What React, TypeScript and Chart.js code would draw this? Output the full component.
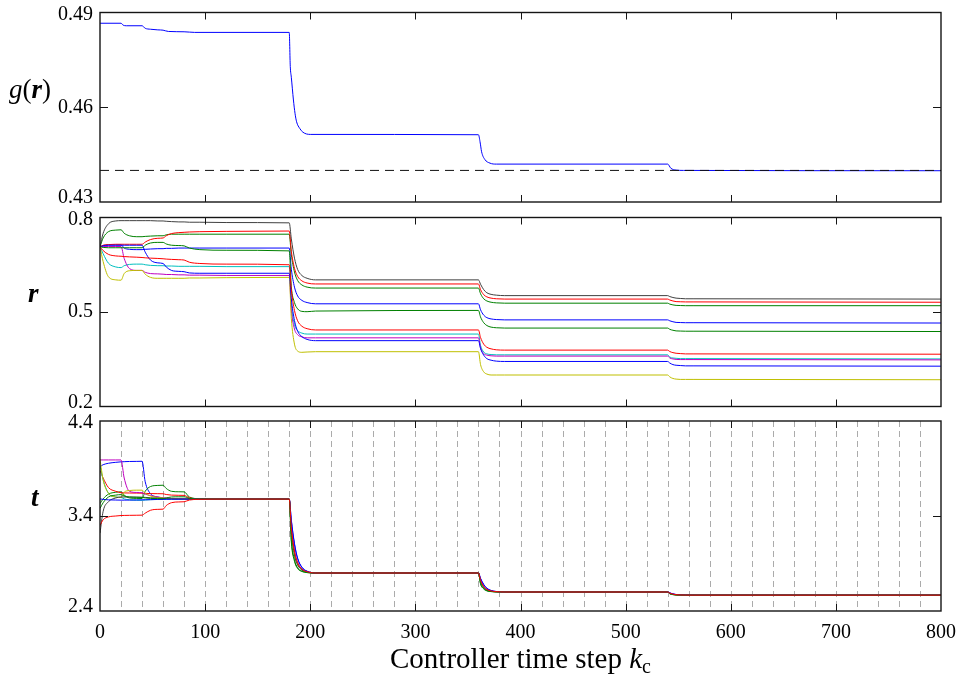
import React, { useEffect, useRef } from "react";
import { Chart, registerables } from "chart.js";

Chart.register(...registerables);

// Sampled controller time steps shared by the r and t trajectories
const STEPS = [
  0, 3, 8, 15, 20, 23, 28, 35, 40, 43, 48, 55, 60, 63, 68, 75, 80, 85, 95, 120,
  180, 182, 185, 188, 192, 197, 205,
  360, 362, 365, 368, 372, 377, 385,
  540, 542, 545, 548, 552, 557, 565,
  800,
];

// Objective g(r)
const G_STEPS = [
  0, 20, 22, 25, 40, 43, 48, 55, 60, 65, 80, 90,
  180, 181, 182, 184, 185.5, 187, 190, 193, 200,
  360, 361.5, 363, 366, 371, 377,
  540, 543, 548, 555, 800,
];
const G_VALUES = [
  0.4866, 0.4866, 0.486, 0.4858, 0.4858, 0.485, 0.4847, 0.4845, 0.4844, 0.484, 0.4839, 0.4837,
  0.4837, 0.4729, 0.4695, 0.4623, 0.4581, 0.4554, 0.4533, 0.4521, 0.4514,
  0.4513, 0.4491, 0.4459, 0.4435, 0.4423, 0.442,
  0.442, 0.4407, 0.4401, 0.44, 0.4399,
];
const G_TARGET = 0.44;

// Rates r
const R_B1 = [
  0.707, 0.711, 0.713, 0.713, 0.713, 0.703, 0.699, 0.698, 0.698, 0.699, 0.7, 0.701, 0.701, 0.702, 0.702, 0.703, 0.703, 0.703, 0.703, 0.703,
  0.703, 0.636, 0.579, 0.551, 0.537, 0.53, 0.526,
  0.526, 0.507, 0.49, 0.482, 0.478, 0.476, 0.475,
  0.475, 0.472, 0.469, 0.467, 0.4665, 0.466, 0.466,
  0.465,
];
const R_G1 = [
  0.707, 0.735, 0.755, 0.76, 0.761, 0.75, 0.742, 0.739, 0.739, 0.74, 0.741, 0.742, 0.742, 0.745, 0.747, 0.747, 0.747, 0.747, 0.747, 0.747,
  0.747, 0.682, 0.627, 0.6, 0.586, 0.579, 0.576,
  0.576, 0.558, 0.542, 0.535, 0.531, 0.529, 0.528,
  0.528, 0.525, 0.5225, 0.521, 0.5205, 0.52, 0.52,
  0.52,
];
const R_R1 = [
  0.707, 0.712, 0.714, 0.715, 0.715, 0.715, 0.715, 0.715, 0.715, 0.722, 0.73, 0.734, 0.735, 0.742, 0.749, 0.752, 0.753, 0.754, 0.755, 0.756,
  0.757, 0.693, 0.639, 0.613, 0.599, 0.592, 0.589,
  0.589, 0.571, 0.555, 0.548, 0.544, 0.542, 0.541,
  0.541, 0.538, 0.535, 0.533, 0.5325, 0.532, 0.532,
  0.531,
];
const R_C = [
  0.707, 0.685, 0.655, 0.643, 0.641, 0.647, 0.651, 0.652, 0.652, 0.65, 0.648, 0.647, 0.647, 0.646, 0.646, 0.645, 0.645, 0.645, 0.645, 0.644,
  0.644, 0.526, 0.46, 0.441, 0.433, 0.43, 0.43,
  0.43, 0.394, 0.373, 0.367, 0.365, 0.364, 0.364,
  0.364, 0.357, 0.354, 0.353, 0.352, 0.352, 0.352,
  0.351,
];
const R_M = [
  0.708, 0.708, 0.708, 0.708, 0.708, 0.67, 0.638, 0.632, 0.632, 0.626, 0.622, 0.621, 0.62, 0.619, 0.619, 0.618, 0.618, 0.617, 0.617, 0.616,
  0.616, 0.507, 0.446, 0.428, 0.421, 0.418, 0.418,
  0.418, 0.386, 0.368, 0.363, 0.361, 0.36, 0.36,
  0.36, 0.354, 0.351, 0.3495, 0.349, 0.349, 0.349,
  0.348,
];
const R_Y = [
  0.707, 0.66, 0.612, 0.602, 0.601, 0.622, 0.631, 0.632, 0.632, 0.62, 0.61, 0.607, 0.607, 0.607, 0.607, 0.607, 0.607, 0.608, 0.608, 0.609,
  0.61, 0.48, 0.398, 0.376, 0.372, 0.373, 0.374,
  0.374, 0.333, 0.31, 0.303, 0.3, 0.3, 0.3,
  0.3, 0.294, 0.289, 0.287, 0.286, 0.286, 0.286,
  0.285,
];
const R_K = [
  0.707, 0.75, 0.78, 0.789, 0.79, 0.79, 0.79, 0.79, 0.79, 0.79, 0.79, 0.789, 0.789, 0.788, 0.787, 0.786, 0.786, 0.785, 0.785, 0.784,
  0.783, 0.732, 0.671, 0.635, 0.616, 0.607, 0.602,
  0.602, 0.588, 0.571, 0.561, 0.556, 0.5535, 0.552,
  0.552, 0.549, 0.546, 0.544, 0.543, 0.542, 0.542,
  0.541,
];
const R_B2 = [
  0.707, 0.71, 0.712, 0.712, 0.712, 0.712, 0.712, 0.712, 0.712, 0.69, 0.665, 0.656, 0.654, 0.643, 0.632, 0.629, 0.628, 0.624, 0.623, 0.623,
  0.623, 0.542, 0.473, 0.439, 0.422, 0.413, 0.409,
  0.409, 0.384, 0.363, 0.352, 0.347, 0.344, 0.343,
  0.343, 0.338, 0.333, 0.331, 0.33, 0.329, 0.329,
  0.328,
];
const R_G2 = [
  0.707, 0.705, 0.704, 0.704, 0.704, 0.704, 0.704, 0.704, 0.704, 0.712, 0.719, 0.721, 0.721, 0.716, 0.712, 0.711, 0.71, 0.703, 0.698, 0.696,
  0.694, 0.58, 0.53, 0.51, 0.502, 0.501, 0.503,
  0.505, 0.484, 0.466, 0.457, 0.452, 0.45, 0.449,
  0.449, 0.445, 0.442, 0.44, 0.4395, 0.439, 0.439,
  0.438,
];
const R_R2 = [
  0.707, 0.695, 0.683, 0.678, 0.677, 0.676, 0.675, 0.674, 0.673, 0.672, 0.671, 0.67, 0.669, 0.668, 0.667, 0.666, 0.665, 0.658, 0.654, 0.652,
  0.65, 0.571, 0.505, 0.472, 0.455, 0.447, 0.443,
  0.443, 0.419, 0.398, 0.388, 0.383, 0.38, 0.379,
  0.379, 0.3745, 0.371, 0.369, 0.368, 0.367, 0.367,
  0.366,
];

// Times t
const T_B1 = [
  3.92, 3.94, 3.955, 3.965, 3.97, 3.972, 3.974, 3.975, 3.976, 3.76, 3.635, 3.6, 3.59, 3.587, 3.584, 3.581, 3.58, 3.579, 3.578, 3.578,
  3.578, 3.36, 3.111, 2.956, 2.862, 2.819, 2.8,
  2.8, 2.744, 2.68, 2.64, 2.616, 2.605, 2.6,
  2.6, 2.591, 2.58, 2.574, 2.57, 2.568, 2.567,
  2.567,
];
const T_G1 = [
  3.53, 3.58, 3.63, 3.65, 3.654, 3.62, 3.59, 3.585, 3.584, 3.66, 3.71, 3.722, 3.724, 3.69, 3.66, 3.655, 3.654, 3.6, 3.582, 3.579,
  3.578, 3.127, 2.924, 2.847, 2.816, 2.804, 2.8,
  2.8, 2.684, 2.632, 2.612, 2.604, 2.601, 2.6,
  2.6, 2.581, 2.572, 2.569, 2.568, 2.567, 2.567,
  2.567,
];
const T_R1 = [
  3.88, 3.8, 3.7, 3.66, 3.645, 3.643, 3.642, 3.641, 3.64, 3.638, 3.636, 3.635, 3.634, 3.626, 3.62, 3.618, 3.617, 3.592, 3.58, 3.578,
  3.578, 3.267, 3.018, 2.901, 2.839, 2.812, 2.8,
  2.8, 2.72, 2.656, 2.626, 2.61, 2.603, 2.6,
  2.6, 2.587, 2.576, 2.571, 2.569, 2.5675, 2.567,
  2.567,
];
const T_C = [
  3.93, 3.78, 3.64, 3.6, 3.595, 3.58, 3.57, 3.566, 3.565, 3.568, 3.572, 3.575, 3.576, 3.577, 3.577, 3.578, 3.578, 3.578, 3.578, 3.578,
  3.578, 3.26, 3.01, 2.897, 2.837, 2.811, 2.8,
  2.8, 2.716, 2.652, 2.624, 2.609, 2.603, 2.6,
  2.6, 2.586, 2.575, 2.571, 2.569, 2.5675, 2.567,
  2.567,
];
const T_M = [
  3.99, 3.99, 3.99, 3.99, 3.99, 3.8, 3.66, 3.648, 3.645, 3.63, 3.615, 3.6, 3.592, 3.588, 3.584, 3.581, 3.58, 3.579, 3.578, 3.578,
  3.578, 3.27, 3.024, 2.905, 2.841, 2.813, 2.8,
  2.8, 2.722, 2.658, 2.627, 2.611, 2.603, 2.6,
  2.6, 2.588, 2.577, 2.572, 2.569, 2.5675, 2.567,
  2.567,
];
const T_Y = [
  4.0, 3.78, 3.64, 3.6, 3.595, 3.65, 3.668, 3.672, 3.672, 3.64, 3.61, 3.595, 3.59, 3.585, 3.582, 3.58, 3.579, 3.578, 3.578, 3.578,
  3.578, 3.25, 3.0, 2.89, 2.834, 2.81, 2.8,
  2.8, 2.712, 2.65, 2.622, 2.608, 2.602, 2.6,
  2.6, 2.585, 2.575, 2.57, 2.568, 2.567, 2.567,
  2.567,
];
const T_K = [
  3.22, 3.45, 3.55, 3.59, 3.6, 3.6, 3.6, 3.599, 3.598, 3.596, 3.592, 3.588, 3.585, 3.583, 3.581, 3.58, 3.579, 3.578, 3.578, 3.578,
  3.578, 3.24, 2.99, 2.885, 2.832, 2.809, 2.8,
  2.8, 2.708, 2.646, 2.62, 2.607, 2.602, 2.6,
  2.6, 2.584, 2.574, 2.57, 2.568, 2.567, 2.567,
  2.567,
];
const T_B2 = [
  3.58, 3.575, 3.57, 3.568, 3.567, 3.567, 3.568, 3.569, 3.57, 3.571, 3.572, 3.574, 3.575, 3.576, 3.577, 3.577, 3.578, 3.578, 3.578, 3.578,
  3.578, 3.35, 3.1, 2.95, 2.86, 2.818, 2.8,
  2.8, 2.74, 2.676, 2.638, 2.615, 2.605, 2.6,
  2.6, 2.59, 2.579, 2.573, 2.57, 2.568, 2.567,
  2.567,
];
const T_G2 = [
  3.48, 3.54, 3.6, 3.62, 3.625, 3.61, 3.6, 3.597, 3.595, 3.59, 3.585, 3.583, 3.582, 3.59, 3.6, 3.602, 3.602, 3.585, 3.579, 3.578,
  3.578, 3.15, 2.94, 2.855, 2.82, 2.805, 2.8,
  2.8, 2.69, 2.636, 2.614, 2.605, 2.601, 2.6,
  2.6, 2.582, 2.573, 2.569, 2.568, 2.567, 2.567,
  2.567,
];
const T_R2 = [
  3.3, 3.36, 3.39, 3.4, 3.405, 3.406, 3.407, 3.408, 3.409, 3.43, 3.46, 3.47, 3.472, 3.51, 3.54, 3.548, 3.55, 3.568, 3.576, 3.578,
  3.578, 3.28, 3.03, 2.91, 2.843, 2.814, 2.8,
  2.8, 2.725, 2.66, 2.628, 2.611, 2.604, 2.6,
  2.6, 2.588, 2.577, 2.572, 2.569, 2.5675, 2.567,
  2.567,
];

const R_SERIES = [R_B1, R_G1, R_R1, R_C, R_M, R_Y, R_K, R_B2, R_G2, R_R2];
const T_SERIES = [T_B1, T_G1, T_R1, T_C, T_M, T_Y, T_K, T_B2, T_G2, T_R2];
const SERIES_COLORS = [
  "#0000ff", "#008000", "#ff0000", "#00bfbf", "#bf00bf",
  "#bfbf00", "#404040", "#0000ff", "#008000", "#ff0000",
];

const X_TICKS = [0, 100, 200, 300, 400, 500, 600, 700, 800];
const X_TICK_LABELS = ["0", "100", "200", "300", "400", "500", "600", "700", "800"];
const G_TICKS = [0.43, 0.46, 0.49];
const G_TICK_LABELS = ["0.43", "0.46", "0.49"];
const R_TICKS = [0.2, 0.5, 0.8];
const R_TICK_LABELS = ["0.2", "0.5", "0.8"];
const T_TICKS = [2.4, 3.4, 4.4];
const T_TICK_LABELS = ["2.4", "3.4", "4.4"];
// Sampling instants of the t panel, every 20 controller steps
const SAMPLE_STEPS = [
  20, 40, 60, 80, 100, 120, 140, 160, 180, 200, 220, 240, 260, 280, 300, 320, 340, 360, 380,
  400, 420, 440, 460, 480, 500, 520, 540, 560, 580, 600, 620, 640, 660, 680, 700, 720, 740, 760, 780,
];

const FAMILY = "'Liberation Serif', 'Times New Roman', serif";
const W = 959;

type TextPart = { text: string; style: string; size: number; dy?: number };

interface PanelSpec {
  top: number;
  height: number;
  padTop: number;
  padBottom: number;
  datasets: any[];
  yMin: number;
  yMax: number;
  yTicks: number[];
  yTickLabels: string[];
  showX: boolean;
  label: TextPart[];
  labelX: number;
  labelDy: number;
  vGrid?: number[];
  title?: TextPart[];
}

function drawParts(ctx: CanvasRenderingContext2D, parts: TextPart[], x: number, y: number, center = false) {
  let total = 0;
  for (const p of parts) {
    ctx.font = `${p.style} ${p.size}px ${FAMILY}`;
    total += ctx.measureText(p.text).width;
  }
  let cx = center ? x - total / 2 : x;
  for (const p of parts) {
    ctx.font = `${p.style} ${p.size}px ${FAMILY}`;
    ctx.fillText(p.text, cx, y + (p.dy || 0));
    cx += ctx.measureText(p.text).width;
  }
}

function framePlugin(spec: PanelSpec) {
  return {
    id: "frame",
    beforeDatasetsDraw(chart: any) {
      if (!spec.vGrid) return;
      const { ctx, chartArea: a, scales } = chart;
      ctx.save();
      ctx.strokeStyle = "#ababab";
      ctx.lineWidth = 1;
      ctx.setLineDash([6, 4]);
      for (const k of spec.vGrid) {
        const x = Math.round(scales.x.getPixelForValue(k)) + 0.5;
        ctx.beginPath();
        ctx.moveTo(x, a.top);
        ctx.lineTo(x, a.bottom);
        ctx.stroke();
      }
      ctx.restore();
    },
    afterDatasetsDraw(chart: any) {
      const { ctx, chartArea: a, scales } = chart;
      ctx.save();
      ctx.strokeStyle = "#151515";
      ctx.lineWidth = 1;
      // inward tick marks
      ctx.beginPath();
      for (const k of X_TICKS.slice(1, -1)) {
        const x = Math.round(scales.x.getPixelForValue(k)) + 0.5;
        ctx.moveTo(x, a.top);
        ctx.lineTo(x, a.top + 7);
        ctx.moveTo(x, a.bottom);
        ctx.lineTo(x, a.bottom - 7);
      }
      for (const v of spec.yTicks.slice(1, -1)) {
        const y = Math.round(scales.y.getPixelForValue(v)) + 0.5;
        ctx.moveTo(a.left, y);
        ctx.lineTo(a.left + 8, y);
        ctx.moveTo(a.right, y);
        ctx.lineTo(a.right - 8, y);
      }
      ctx.stroke();
      // axes box
      ctx.lineWidth = 1.4;
      ctx.strokeRect(a.left, a.top, a.right - a.left, a.bottom - a.top);
      ctx.fillStyle = "#000";
      // y tick labels, end labels nudged inside the axis span
      ctx.font = `20px ${FAMILY}`;
      ctx.textAlign = "right";
      ctx.textBaseline = "middle";
      const last = spec.yTicks.length - 1;
      spec.yTicks.forEach((v, i) => {
        const off = i === 0 ? -4 : i === last ? 2 : 0;
        ctx.fillText(spec.yTickLabels[i], a.left - 7, scales.y.getPixelForValue(v) + off);
      });
      // axis label
      ctx.textBaseline = "alphabetic";
      ctx.textAlign = "left";
      drawParts(ctx, spec.label, spec.labelX, a.top + spec.labelDy);
      if (spec.title) {
        drawParts(ctx, spec.title, (a.left + a.right) / 2, a.bottom + 57, true);
      }
      ctx.restore();
    },
  };
}

function Panel({ spec }: { spec: PanelSpec }) {
  const ref = useRef<HTMLCanvasElement>(null);
  useEffect(() => {
    const tickFont = { family: FAMILY, size: 20 };
    const chart = new Chart(ref.current as HTMLCanvasElement, {
      type: "line",
      data: { datasets: spec.datasets },
      options: {
        responsive: false,
        maintainAspectRatio: false,
        animation: false,
        devicePixelRatio: 1,
        events: [],
        layout: { padding: { left: 0, right: 18, top: spec.padTop, bottom: spec.padBottom } },
        plugins: { legend: { display: false }, tooltip: { enabled: false } },
        scales: {
          x: {
            type: "linear",
            min: 0,
            max: 800,
            display: spec.showX,
            afterBuildTicks: (s: any) => {
              s.ticks = X_TICKS.map((v) => ({ value: v }));
            },
            afterFit: (s: any) => {
              s.height = spec.showX ? 46 : 0;
            },
            ticks: {
              autoSkip: false,
              maxRotation: 0,
              padding: 2,
              color: "#000",
              font: tickFont,
              callback: (_v: any, i: number) => X_TICK_LABELS[i],
            },
            grid: { display: false },
            border: { display: false },
          },
          y: {
            type: "linear",
            min: spec.yMin,
            max: spec.yMax,
            afterBuildTicks: (s: any) => {
              s.ticks = spec.yTicks.map((v) => ({ value: v }));
            },
            afterFit: (s: any) => {
              s.width = 100;
            },
            ticks: { display: false },
            grid: { display: false },
            border: { display: false },
          },
        },
      } as any,
      plugins: [framePlugin(spec)],
    });
    return () => chart.destroy();
  }, []);
  return (
    <canvas
      ref={ref}
      width={W}
      height={spec.height}
      style={{ position: "absolute", left: 0, top: spec.top, width: W, height: spec.height }}
    />
  );
}

function lineSet(steps: number[], values: number[], color: string, order: number, dash?: number[]) {
  return {
    data: steps.map((k, i) => ({ x: k, y: values[i] })),
    borderColor: color,
    borderWidth: 1,
    borderDash: dash || [],
    pointRadius: 0,
    fill: false,
    cubicInterpolationMode: "monotone",
    order,
  };
}

const N = R_SERIES.length;

const PANELS: PanelSpec[] = [
  {
    top: -8,
    height: 230,
    padTop: 20.5,
    padBottom: 20,
    datasets: [
      lineSet([0, 800], [G_TARGET, G_TARGET], "#111111", 0, [9, 6]),
      lineSet(G_STEPS, G_VALUES, "#0000ff", 1),
    ],
    yMin: 0.43,
    yMax: 0.49,
    yTicks: G_TICKS,
    yTickLabels: G_TICK_LABELS,
    showX: false,
    label: [
      { text: "g", style: "italic", size: 27 },
      { text: "(", style: "normal", size: 27 },
      { text: "r", style: "italic bold", size: 27 },
      { text: ")", style: "normal", size: 27 },
    ],
    labelX: 9,
    labelDy: 85,
  },
  {
    top: 197,
    height: 229,
    padTop: 20.5,
    padBottom: 19.5,
    datasets: R_SERIES.map((v, i) => lineSet(STEPS, v, SERIES_COLORS[i], N - i)),
    yMin: 0.2,
    yMax: 0.8,
    yTicks: R_TICKS,
    yTickLabels: R_TICK_LABELS,
    showX: false,
    label: [{ text: "r", style: "italic bold", size: 27 }],
    labelX: 28,
    labelDy: 84.5,
  },
  {
    top: 401,
    height: 276,
    padTop: 20,
    padBottom: 20,
    datasets: T_SERIES.map((v, i) => lineSet(STEPS, v, SERIES_COLORS[i], N - i)),
    yMin: 2.4,
    yMax: 4.4,
    yTicks: T_TICKS,
    yTickLabels: T_TICK_LABELS,
    showX: true,
    label: [{ text: "t", style: "italic bold", size: 27 }],
    labelX: 31,
    labelDy: 85,
    vGrid: SAMPLE_STEPS,
    title: [
      { text: "Controller time step ", style: "normal", size: 29 },
      { text: "k", style: "italic", size: 29 },
      { text: "c", style: "normal", size: 20, dy: 5 },
    ],
  },
];

export default function App() {
  return (
    <div
      style={{
        position: "absolute",
        left: 0,
        top: 0,
        width: W,
        height: 677,
        overflow: "hidden",
        background: "#ffffff",
      }}
    >
      {PANELS.map((spec, i) => (
        <Panel key={i} spec={spec} />
      ))}
    </div>
  );
}
